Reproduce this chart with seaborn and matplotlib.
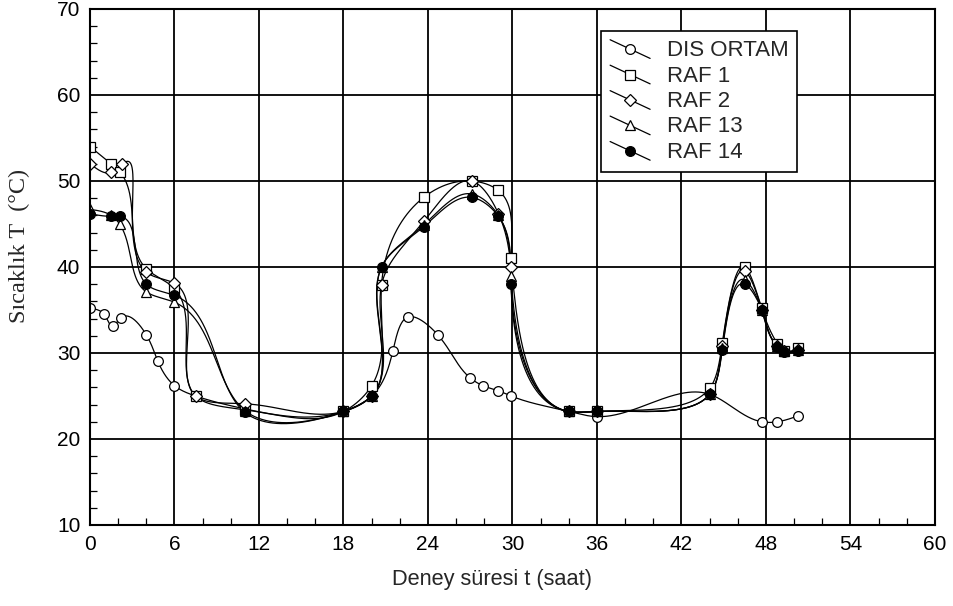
import numpy as np
import pandas as pd
import matplotlib
matplotlib.use("Agg")
import matplotlib.pyplot as plt
from matplotlib.lines import Line2D
from matplotlib.legend_handler import HandlerBase
from matplotlib.ticker import MultipleLocator
import seaborn as sns

# ---------------- data ----------------
t_dis = [0, 1.0, 1.6, 2.2, 4.0, 4.8, 6.0, 7.5, 11, 18, 20, 21.5, 22.6, 24.7, 27.0, 27.9, 29.0, 29.9, 34, 36, 44, 47.7, 48.8, 50.3]
dis_ortam = [35.2, 34.5, 33.1, 34.1, 32.1, 29.1, 26.2, 25.0, 23.5, 23.2, 25.0, 30.2, 34.2, 32.1, 27.1, 26.2, 25.6, 25.0, 23.2, 22.6, 25.2, 22.0, 22.0, 22.7]

t_raf1 = [0, 1.5, 2.1, 4.0, 6.0, 7.5, 11, 18, 20, 20.7, 23.7, 27.1, 29.0, 29.9, 34, 36, 44, 44.9, 46.5, 47.7, 48.8, 49.3, 50.3]
raf1 = [54.0, 52.0, 51.1, 39.8, 37.5, 25.0, 23.4, 23.2, 26.2, 37.9, 48.1, 50.0, 48.9, 41.0, 23.2, 23.2, 25.9, 31.2, 40.0, 35.2, 31.1, 30.2, 30.6]

t_raf2 = [0, 1.5, 2.3, 4.0, 6.0, 7.5, 11, 18, 20, 20.7, 23.7, 27.1, 29.0, 29.9, 34, 36, 44, 44.9, 46.5, 47.7, 48.8, 49.3, 50.3]
raf2 = [52.0, 51.0, 52.0, 39.4, 38.1, 25.0, 24.1, 23.2, 25.0, 37.9, 45.3, 50.0, 46.2, 40.0, 23.2, 23.2, 25.2, 30.8, 39.5, 35.0, 30.8, 30.2, 30.4]

t_raf13 = [0, 1.5, 2.1, 4.0, 6.0, 11, 18, 20, 20.7, 23.7, 27.1, 29.0, 29.9, 34, 36, 44, 44.9, 46.5, 47.7, 48.8, 49.3, 50.3]
raf13 = [46.7, 46.0, 45.0, 37.1, 35.9, 23.3, 23.2, 25.0, 40.0, 44.9, 48.5, 46.0, 39.0, 23.2, 23.2, 25.2, 30.6, 38.5, 35.0, 30.8, 30.2, 30.3]

t_raf14 = [0, 1.5, 2.1, 4.0, 6.0, 11, 18, 20, 20.7, 23.7, 27.1, 29.0, 29.9, 34, 36, 44, 44.9, 46.5, 47.7, 48.8, 49.3, 50.3]
raf14 = [46.2, 45.9, 45.9, 38.0, 36.7, 23.1, 23.2, 25.0, 40.0, 44.7, 48.1, 45.9, 38.0, 23.2, 23.2, 25.2, 30.4, 38.0, 35.0, 30.7, 30.1, 30.2]

labels = ["DIS ORTAM", "RAF 1", "RAF 2", "RAF 13", "RAF 14"]
x_ticks = [0, 6, 12, 18, 24, 30, 36, 42, 48, 54, 60]
y_ticks = [10, 20, 30, 40, 50, 60, 70]

series = [(t_dis, dis_ortam), (t_raf1, raf1), (t_raf2, raf2), (t_raf13, raf13), (t_raf14, raf14)]
markers = [("o", "white"), ("s", "white"), ("D", "white"), ("^", "white"), ("o", "black")]
msizes = [7, 7, 6, 7, 7]

XMIN, XMAX, YMIN, YMAX = 0, 60, 10, 70
AX_W, AX_H = 845.0, 516.0


def natural_spline(s, v, ss):
    n = len(s)
    h = np.diff(s)
    A = np.zeros((n, n))
    r = np.zeros(n)
    A[0, 0] = A[-1, -1] = 1.0
    for i in range(1, n - 1):
        A[i, i - 1] = h[i - 1]
        A[i, i] = 2 * (h[i - 1] + h[i])
        A[i, i + 1] = h[i]
        r[i] = 6 * ((v[i + 1] - v[i]) / h[i] - (v[i] - v[i - 1]) / h[i - 1])
    M = np.linalg.solve(A, r)
    idx = np.clip(np.searchsorted(s, ss, side="right") - 1, 0, n - 2)
    s0, s1 = s[idx], s[idx + 1]
    hh = s1 - s0
    a = (s1 - ss) / hh
    b = (ss - s0) / hh
    return (a * v[idx] + b * v[idx + 1]
            + ((a ** 3 - a) * M[idx] + (b ** 3 - b) * M[idx + 1]) * hh ** 2 / 6)


def smooth(xs, ys, n=1500):
    """Parametric natural cubic spline (chord-length) through the data points."""
    X = (np.asarray(xs, float) - XMIN) / (XMAX - XMIN) * AX_W
    Y = (np.asarray(ys, float) - YMIN) / (YMAX - YMIN) * AX_H
    d = np.hypot(np.diff(X), np.diff(Y))
    s = np.concatenate([[0], np.cumsum(np.maximum(d, 1e-6))])
    ss = np.linspace(0, s[-1], n)
    sx = natural_spline(s, X, ss)
    sy = natural_spline(s, Y, ss)
    return (sx / AX_W * (XMAX - XMIN) + XMIN, sy / AX_H * (YMAX - YMIN) + YMIN)


sns.set_style("white")
plt.rcParams["font.family"] = ["Liberation Sans", "DejaVu Sans"]

fig = plt.figure(figsize=(9.54, 6.06), dpi=100)
ax = fig.add_axes([90 / 954, 1 - 525 / 606, 845 / 954, 516 / 606])

for (ts, vs), lab, (mk, fc), ms in zip(series, labels, markers, msizes):
    sx, sy = smooth(ts, vs)
    df = pd.DataFrame({"t": sx, "v": sy})
    sns.lineplot(data=df, x="t", y="v", sort=False, estimator=None,
                 color="black", lw=0.9, ax=ax, zorder=3)
    ax.plot(ts, vs, ls="none", marker=mk, ms=ms, mfc=fc, mec="black",
            mew=0.9, zorder=4)

ax.set_xlim(XMIN, XMAX)
ax.set_ylim(YMIN, YMAX)
ax.set_xticks(x_ticks)
ax.set_yticks(y_ticks)
ax.xaxis.set_minor_locator(MultipleLocator(2))
ax.yaxis.set_minor_locator(MultipleLocator(2))
ax.grid(True, which="major", color="black", lw=1.3)
ax.set_axisbelow(True)
for s in ax.spines.values():
    s.set_color("black")
    s.set_linewidth(1.5)
    s.set_zorder(5)
ax.tick_params(which="major", direction="in", length=0, labelsize=15, pad=7, colors="black")
ax.tick_params(which="minor", direction="in", length=5, width=0.9, color="black",
               bottom=True, left=True)

ax.set_xlabel("Deney süresi t (saat)", fontsize=15.7)
ax.xaxis.set_label_coords(0.476, -0.085)
ax.set_ylabel("Sıcaklık T  (°C)", fontsize=17.5, family=["Liberation Serif", "DejaVu Serif"])
ax.yaxis.set_label_coords(-0.071, 0.54)


class DiagHandler(HandlerBase):
    def create_artists(self, legend, orig_handle, xdescent, ydescent, width, height, fontsize, trans):
        x0, x1 = -xdescent, -xdescent + width
        y0, y1 = -ydescent + height * 1.05, -ydescent - height * 0.15
        line = Line2D([x0, x1], [y0, y1], color="black", lw=0.9)
        line.set_transform(trans)
        mk = Line2D([(x0 + x1) / 2], [(y0 + y1) / 2], ls="none",
                    marker=orig_handle.get_marker(), ms=orig_handle.get_markersize(),
                    mfc=orig_handle.get_markerfacecolor(), mec="black", mew=0.9)
        mk.set_transform(trans)
        return [line, mk]


handles = [Line2D([], [], color="black", marker=mk, ms=ms, mfc=fc, mec="black")
           for (mk, fc), ms in zip(markers, msizes)]
leg = ax.legend(handles, labels, handler_map={Line2D: DiagHandler()},
                loc="upper left", bbox_to_anchor=(0.605, 0.957), fontsize=16,
                frameon=True, fancybox=False, framealpha=1, edgecolor="black",
                handlelength=1.8, handletextpad=0.75, labelspacing=0.2,
                borderpad=0.4, borderaxespad=0.0)
leg.get_frame().set_linewidth(1.2)
leg.set_zorder(6)

fig.savefig("out.png", dpi=100)
